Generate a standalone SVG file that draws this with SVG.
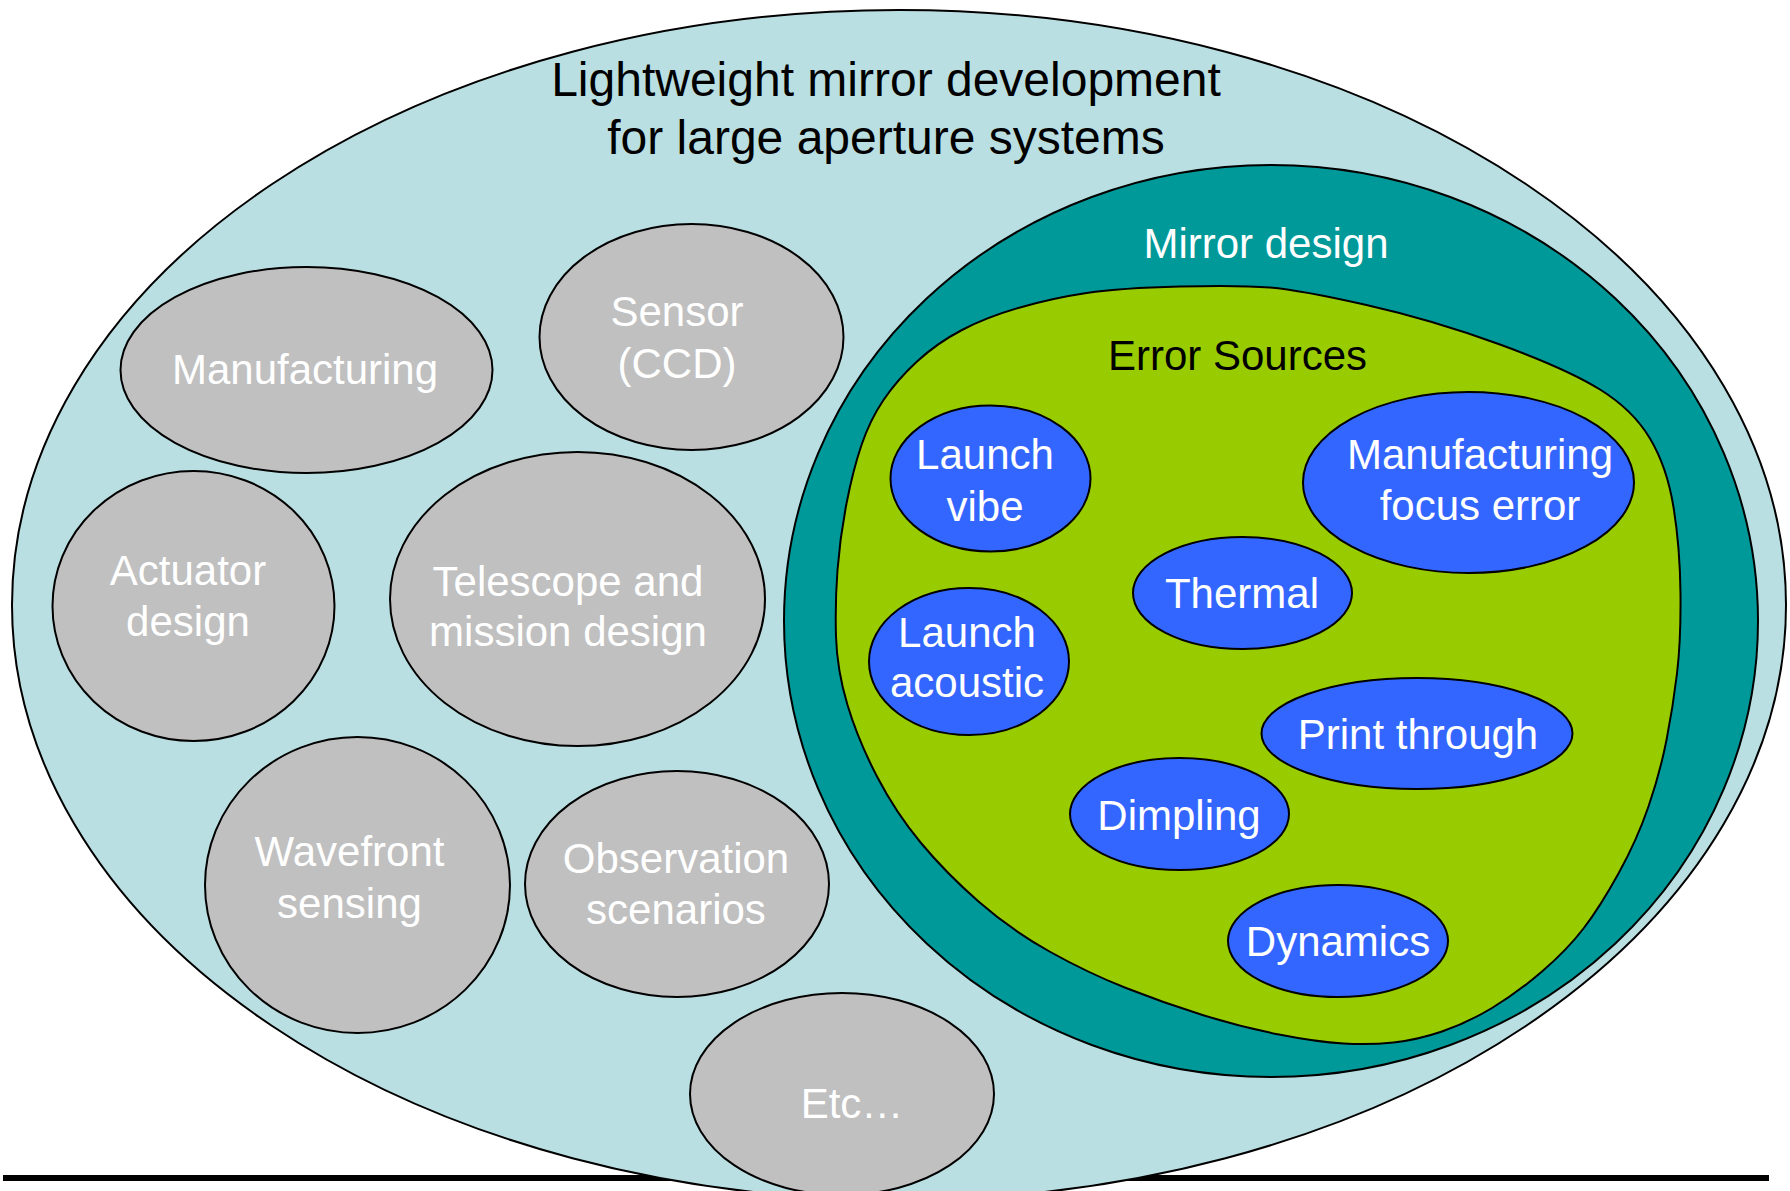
<svg xmlns="http://www.w3.org/2000/svg" width="1790" height="1191" viewBox="0 0 1790 1191">
<style>
  .sh { stroke: #000; stroke-width: 2; }
  .outer { fill: #BADFE2; }
  .gray { fill: #C0C0C0; }
  .teal { fill: #009999; }
  .green { fill: #99CC00; }
  .blue { fill: #3366FF; }
  text { font-family: "Liberation Sans", Arial, sans-serif; font-size: 42px; text-anchor: middle; }
  .w { fill: #FFFFFF; }
  .k { fill: #000000; }
</style>
<g id="baseline">
  <line x1="3" y1="1178" x2="1769" y2="1178" stroke="#000" stroke-width="6"/>
</g>
<g id="outer-system">
  <ellipse class="outer sh" cx="899" cy="605" rx="887" ry="595"/>
  <text class="k" x="886" y="96" style="font-size:48px">Lightweight mirror development</text>
  <text class="k" x="886" y="154" style="font-size:48px">for large aperture systems</text>
</g>
<g id="manufacturing">
  <ellipse class="gray sh" cx="306.5" cy="370" rx="186" ry="103"/>
  <text class="w" x="305" y="384">Manufacturing</text>
</g>
<g id="sensor">
  <ellipse class="gray sh" cx="691.5" cy="337" rx="152" ry="113"/>
  <text class="w" x="677" y="326">Sensor</text>
  <text class="w" x="677" y="378">(CCD)</text>
</g>
<g id="actuator">
  <ellipse class="gray sh" cx="193.5" cy="606" rx="141" ry="135"/>
  <text class="w" x="188" y="585">Actuator</text>
  <text class="w" x="188" y="636">design</text>
</g>
<g id="telescope">
  <ellipse class="gray sh" cx="577.5" cy="599" rx="187.5" ry="147"/>
  <text class="w" x="568" y="596">Telescope and</text>
  <text class="w" x="568" y="646">mission design</text>
</g>
<g id="wavefront">
  <ellipse class="gray sh" cx="357.5" cy="885" rx="152.5" ry="148"/>
  <text class="w" x="349.5" y="866">Wavefront</text>
  <text class="w" x="349.5" y="918">sensing</text>
</g>
<g id="observation">
  <ellipse class="gray sh" cx="677" cy="884" rx="152" ry="113"/>
  <text class="w" x="676" y="873">Observation</text>
  <text class="w" x="676" y="924">scenarios</text>
</g>
<g id="etc">
  <ellipse class="gray sh" cx="842" cy="1094" rx="152" ry="101"/>
  <text class="w" x="852" y="1118">Etc…</text>
</g>
<g id="mirror-design">
  <ellipse class="teal sh" cx="1271" cy="621" rx="487" ry="456"/>
  <text class="w" x="1266" y="258">Mirror design</text>
</g>
<g id="error-sources">
  <path class="green sh" d="M 1180,286.5 Q 1240,285 1270,287.5 Q 1300,290 1366.5,305 Q 1433,320 1500,344.5 Q 1567,369 1600,389.5 Q 1633,410 1650,438.5 Q 1667,467 1673.5,507 Q 1680,547 1680.5,593.5 Q 1681,640 1677,673.5 Q 1673,707 1666.5,740 Q 1660,773 1648.5,806.5 Q 1637,840 1618.5,873.5 Q 1600,907 1583.5,928.5 Q 1567,950 1542,971.5 Q 1517,993 1492,1008 Q 1467,1023 1442,1031.5 Q 1417,1040 1393.5,1042.5 Q 1370,1045 1343.5,1043.5 Q 1317,1042 1279,1034.5 Q 1241,1027 1202.5,1015 Q 1164,1003 1126,988 Q 1088,973 1049.5,951.5 Q 1011,930 978.5,901.5 Q 946,873 921,843 Q 896,813 877,776.5 Q 858,740 847.5,705 Q 837,670 836,636.5 Q 835,603 837.5,570 Q 840,537 846.5,503.5 Q 853,470 861.5,445 Q 870,420 883.5,400 Q 897,380 917,361.5 Q 937,343 962,330 Q 987,317 1020,307.5 Q 1053,298 1086.5,293 Q 1120,288 1180,286.5 Z"/>
  <text class="k" x="1237.5" y="370">Error Sources</text>
</g>
<g id="launch-vibe">
  <ellipse class="blue sh" cx="990.5" cy="478.5" rx="100" ry="73"/>
  <text class="w" x="985" y="469">Launch</text>
  <text class="w" x="985" y="521">vibe</text>
</g>
<g id="launch-acoustic">
  <ellipse class="blue sh" cx="969" cy="661.5" rx="100" ry="73.5"/>
  <text class="w" x="967" y="647">Launch</text>
  <text class="w" x="967" y="697">acoustic</text>
</g>
<g id="manufacturing-focus-error">
  <ellipse class="blue sh" cx="1468.5" cy="482.5" rx="165.5" ry="90.5"/>
  <text class="w" x="1480" y="469">Manufacturing</text>
  <text class="w" x="1480" y="520">focus error</text>
</g>
<g id="thermal">
  <ellipse class="blue sh" cx="1242.5" cy="593" rx="109.5" ry="56"/>
  <text class="w" x="1242" y="608">Thermal</text>
</g>
<g id="print-through">
  <ellipse class="blue sh" cx="1417" cy="733.5" rx="155.5" ry="55.5"/>
  <text class="w" x="1418" y="749">Print through</text>
</g>
<g id="dimpling">
  <ellipse class="blue sh" cx="1179.5" cy="814" rx="109.5" ry="56"/>
  <text class="w" x="1179" y="830">Dimpling</text>
</g>
<g id="dynamics">
  <ellipse class="blue sh" cx="1338" cy="941" rx="110" ry="56"/>
  <text class="w" x="1338" y="956">Dynamics</text>
</g>
<g id="connectors"></g>
</svg>
